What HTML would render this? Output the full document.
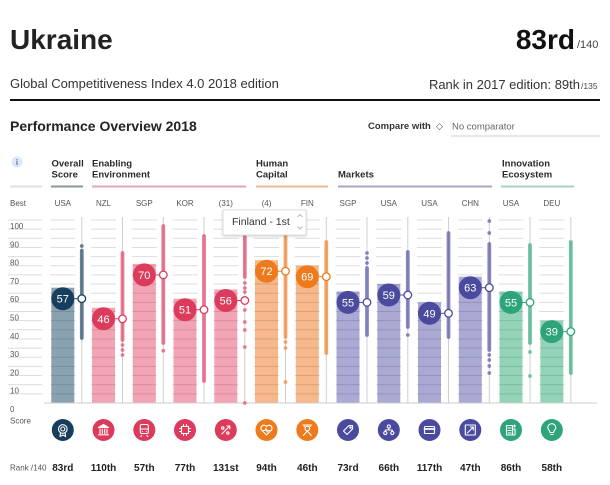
<!DOCTYPE html>
<html><head><meta charset="utf-8"><style>
html,body{margin:0;padding:0;background:#fff;}
svg{display:block;font-family:"Liberation Sans",Arial,sans-serif;}
</style></head><body>
<svg width="610" height="485" viewBox="0 0 610 485" xmlns="http://www.w3.org/2000/svg">
<defs>
<pattern id="gl" patternUnits="userSpaceOnUse" x="0" y="219.5" width="20" height="9.15"><rect width="20" height="1" fill="#dcdcdc"/></pattern>
<pattern id="gd" patternUnits="userSpaceOnUse" x="0" y="219.5" width="20" height="9.15"><rect width="20" height="1" fill="#000" fill-opacity="0.13"/></pattern>
<filter id="sh" x="-10%" y="-20%" width="120%" height="150%"><feDropShadow dx="0" dy="1" stdDeviation="1.2" flood-color="#000" flood-opacity="0.18"/></filter>
</defs>

<!-- Header -->
<text x="10" y="49" font-size="28" font-weight="bold" fill="#222">Ukraine</text>
<text x="575" y="49" font-size="28" font-weight="bold" fill="#111" text-anchor="end">83rd</text>
<text x="577" y="48" font-size="11" fill="#444">/140</text>
<text x="10" y="88" font-size="13" fill="#333">Global Competitiveness Index 4.0 2018 edition</text>
<text x="580" y="89" font-size="13" fill="#333" text-anchor="end">Rank in 2017 edition: 89th</text>
<text x="581" y="89" font-size="8.5" fill="#444">/135</text>
<line x1="10" y1="100" x2="600" y2="100" stroke="#111" stroke-width="2"/>

<text x="10" y="131" font-size="14" font-weight="bold" fill="#222">Performance Overview 2018</text>
<text x="368" y="129" font-size="9.5" font-weight="bold" fill="#333">Compare with</text>
<text x="436" y="129" font-size="9" fill="#555">◇</text>
<text x="452" y="129.5" font-size="9.5" fill="#666">No comparator</text>
<line x1="451" y1="136" x2="600" y2="136" stroke="#ddd" stroke-width="1.5"/>

<!-- info icon -->
<circle cx="17" cy="162" r="5.5" fill="#dce8f4"/>
<text x="17" y="165" font-size="8" font-weight="bold" fill="#4a78b0" text-anchor="middle">i</text>

<!-- Category labels -->
<g font-size="9.5" font-weight="bold" fill="#2a2a2a">
<text x="51.5" y="166.7">Overall</text><text x="51.5" y="177.7">Score</text>
<text x="92" y="166.7">Enabling</text><text x="92" y="177.7">Environment</text>
<text x="256" y="166.7">Human</text><text x="256" y="177.7">Capital</text>
<text x="338" y="177.7">Markets</text>
<text x="502" y="166.7">Innovation</text><text x="502" y="177.7">Ecosystem</text>
</g>
<g stroke-width="2">
<line x1="10" y1="186.5" x2="42" y2="186.5" stroke="#e0e0e0"/>
<line x1="51" y1="186.5" x2="83" y2="186.5" stroke="#8a989e"/>
<line x1="92" y1="186.5" x2="246" y2="186.5" stroke="#dca8b3"/>
<line x1="256" y1="186.5" x2="328" y2="186.5" stroke="#e9b990"/>
<line x1="338" y1="186.5" x2="492" y2="186.5" stroke="#a9a9bf"/>
<line x1="501" y1="186.5" x2="574" y2="186.5" stroke="#a6d3c3"/>
</g>

<!-- Column header labels -->
<g font-size="8" fill="#555" text-anchor="middle">
<text x="62.8" y="206">USA</text>
<text x="103.5" y="206">NZL</text>
<text x="144.3" y="206">SGP</text>
<text x="185" y="206">KOR</text>
<text x="225.8" y="206">(31)</text>
<text x="266.5" y="206">(4)</text>
<text x="307.3" y="206">FIN</text>
<text x="348" y="206">SGP</text>
<text x="388.8" y="206">USA</text>
<text x="429.5" y="206">USA</text>
<text x="470.3" y="206">CHN</text>
<text x="511" y="206">USA</text>
<text x="551.8" y="206">DEU</text>
</g>
<text x="10" y="206" font-size="8" fill="#555">Best</text>

<!-- y labels -->
<rect x="8" y="219.5" width="34" height="183" fill="url(#gl)"/>
<g font-size="8" fill="#555">
<text x="10" y="229">100</text>
<text x="10" y="247.3">90</text>
<text x="10" y="265.6">80</text>
<text x="10" y="283.9">70</text>
<text x="10" y="302.2">60</text>
<text x="10" y="320.5">50</text>
<text x="10" y="338.8">40</text>
<text x="10" y="357.1">30</text>
<text x="10" y="375.4">20</text>
<text x="10" y="393.7">10</text>
<text x="10" y="412">0</text>
<text x="10" y="423.5">Score</text>
<text x="10" y="470.5">Rank /140</text>
</g>

<!-- column gridlines -->
<g fill="url(#gl)">
<rect x="50.3" y="219.5" width="25" height="183"/>
<rect x="91" y="219.5" width="25" height="183"/>
<rect x="131.8" y="219.5" width="25" height="183"/>
<rect x="172.5" y="219.5" width="25" height="183"/>
<rect x="213.3" y="219.5" width="25" height="183"/>
<rect x="254" y="219.5" width="25" height="183"/>
<rect x="294.8" y="219.5" width="25" height="183"/>
<rect x="335.5" y="219.5" width="25" height="183"/>
<rect x="376.3" y="219.5" width="25" height="183"/>
<rect x="417" y="219.5" width="25" height="183"/>
<rect x="457.8" y="219.5" width="25" height="183"/>
<rect x="498.5" y="219.5" width="25" height="183"/>
<rect x="539.3" y="219.5" width="25" height="183"/>
</g>

<!-- vertical lines -->
<g stroke="#cfcfcf" stroke-width="1">
<line x1="81.8" y1="217" x2="81.8" y2="403"/>
<line x1="122.5" y1="217" x2="122.5" y2="403"/>
<line x1="163.3" y1="217" x2="163.3" y2="403"/>
<line x1="204" y1="217" x2="204" y2="403"/>
<line x1="244.8" y1="217" x2="244.8" y2="403"/>
<line x1="285.5" y1="217" x2="285.5" y2="403"/>
<line x1="326.3" y1="217" x2="326.3" y2="403"/>
<line x1="367" y1="217" x2="367" y2="403"/>
<line x1="407.8" y1="217" x2="407.8" y2="403"/>
<line x1="448.5" y1="217" x2="448.5" y2="403"/>
<line x1="489.3" y1="217" x2="489.3" y2="403"/>
<line x1="530" y1="217" x2="530" y2="403"/>
<line x1="570.8" y1="217" x2="570.8" y2="403"/>
</g>

<!-- bars -->
<g>
<rect x="51.3" y="287.7" width="23" height="115.3" fill="#8aa2b0"/>
<rect x="92" y="307.8" width="23" height="95.2" fill="#f2a4b4"/>
<rect x="132.8" y="263.9" width="23" height="139.1" fill="#f2a4b4"/>
<rect x="173.5" y="298.7" width="23" height="104.3" fill="#f2a4b4"/>
<rect x="214.3" y="289.5" width="23" height="113.5" fill="#f2a4b4"/>
<rect x="255" y="260.2" width="23" height="142.8" fill="#f7b98b"/>
<rect x="295.8" y="265.7" width="23" height="137.3" fill="#f7b98b"/>
<rect x="336.5" y="291.4" width="23" height="111.6" fill="#a9a9d4"/>
<rect x="377.3" y="284" width="23" height="119" fill="#a9a9d4"/>
<rect x="418" y="302.3" width="23" height="100.7" fill="#a9a9d4"/>
<rect x="458.8" y="276.7" width="23" height="126.3" fill="#a9a9d4"/>
<rect x="499.5" y="291.4" width="23" height="111.6" fill="#93d4b8"/>
<rect x="540.3" y="320.6" width="23" height="82.4" fill="#93d4b8"/>
</g>
<g fill="url(#gd)">
<rect x="51.3" y="287.7" width="23" height="115.3"/>
<rect x="92" y="307.8" width="23" height="95.2"/>
<rect x="132.8" y="263.9" width="23" height="139.1"/>
<rect x="173.5" y="298.7" width="23" height="104.3"/>
<rect x="214.3" y="289.5" width="23" height="113.5"/>
<rect x="255" y="260.2" width="23" height="142.8"/>
<rect x="295.8" y="265.7" width="23" height="137.3"/>
<rect x="336.5" y="291.4" width="23" height="111.6"/>
<rect x="377.3" y="284" width="23" height="119"/>
<rect x="418" y="302.3" width="23" height="100.7"/>
<rect x="458.8" y="276.7" width="23" height="126.3"/>
<rect x="499.5" y="291.4" width="23" height="111.6"/>
<rect x="540.3" y="320.6" width="23" height="82.4"/>
</g>

<line x1="44" y1="403" x2="597" y2="403" stroke="#cccccc" stroke-width="1"/>

<!-- distributions -->
<g stroke-linecap="round" stroke-width="3.8" stroke-opacity="0.68">
<line x1="81.8" y1="250.7" x2="81.8" y2="338" stroke="#1d4563"/>
<line x1="122.5" y1="253" x2="122.5" y2="340" stroke="#de3d62"/>
<line x1="163.3" y1="226" x2="163.3" y2="343" stroke="#de3d62"/>
<line x1="204" y1="236" x2="204" y2="381" stroke="#de3d62"/>
<line x1="244.8" y1="237" x2="244.8" y2="277" stroke="#de3d62"/>
<line x1="285.5" y1="233" x2="285.5" y2="337" stroke="#ef7e22"/>
<line x1="326.3" y1="242" x2="326.3" y2="353" stroke="#ef7e22"/>
<line x1="367" y1="268" x2="367" y2="335" stroke="#4f4ea3"/>
<line x1="407.8" y1="252" x2="407.8" y2="327" stroke="#4f4ea3"/>
<line x1="448.5" y1="233" x2="448.5" y2="337" stroke="#4f4ea3"/>
<line x1="489.3" y1="244" x2="489.3" y2="350" stroke="#4f4ea3"/>
<line x1="530" y1="245" x2="530" y2="343" stroke="#30a67c"/>
<line x1="570.8" y1="242" x2="570.8" y2="373" stroke="#30a67c"/>
</g>
<g fill-opacity="0.65" >
<g fill="#1d4563"><circle cx="81.8" cy="246" r="1.9"/></g>
<g fill="#de3d62">
<circle cx="122.5" cy="345" r="1.9"/><circle cx="122.5" cy="350" r="1.9"/><circle cx="122.5" cy="355" r="1.9"/>
<circle cx="163.3" cy="350.7" r="1.9"/>
<circle cx="244.8" cy="283" r="1.9"/><circle cx="244.8" cy="288" r="1.9"/><circle cx="244.8" cy="292" r="1.9"/><circle cx="244.8" cy="300" r="1.9"/><circle cx="244.8" cy="310" r="1.9"/><circle cx="244.8" cy="322" r="1.9"/><circle cx="244.8" cy="330" r="1.9"/><circle cx="244.8" cy="347" r="1.9"/><circle cx="244.8" cy="403" r="1.9"/>
</g>
<g fill="#ef7e22">
<circle cx="285.5" cy="342" r="1.9"/><circle cx="285.5" cy="348" r="1.9"/><circle cx="285.5" cy="382" r="1.9"/>
</g>
<g fill="#4f4ea3">
<circle cx="367" cy="253" r="1.9"/><circle cx="367" cy="258" r="1.9"/><circle cx="367" cy="263" r="1.9"/>
<circle cx="407.8" cy="335" r="1.9"/>
<circle cx="489.3" cy="221" r="1.9"/><circle cx="489.3" cy="233" r="1.9"/><circle cx="489.3" cy="355" r="1.9"/><circle cx="489.3" cy="360" r="1.9"/><circle cx="489.3" cy="366" r="1.9"/><circle cx="489.3" cy="373" r="1.9"/>
</g>
<g fill="#30a67c">
<circle cx="530" cy="352" r="1.9"/><circle cx="530" cy="376" r="1.9"/>
</g>
</g>

<!-- markers -->
<g stroke-width="1">
<line x1="74.3" y1="298.7" x2="78" y2="298.7" stroke="#173e5c"/>
<line x1="115" y1="318.8" x2="118.7" y2="318.8" stroke="#dc3b5c"/>
<line x1="155.8" y1="274.9" x2="159.5" y2="274.9" stroke="#dc3b5c"/>
<line x1="196.5" y1="309.7" x2="200.2" y2="309.7" stroke="#dc3b5c"/>
<line x1="237.3" y1="300.5" x2="241" y2="300.5" stroke="#dc3b5c"/>
<line x1="278" y1="271.2" x2="281.7" y2="271.2" stroke="#ee7a1e"/>
<line x1="318.8" y1="276.7" x2="322.5" y2="276.7" stroke="#ee7a1e"/>
<line x1="359.5" y1="302.4" x2="363.2" y2="302.4" stroke="#4a4a9f"/>
<line x1="400.3" y1="295" x2="404" y2="295" stroke="#4a4a9f"/>
<line x1="441" y1="313.3" x2="444.7" y2="313.3" stroke="#4a4a9f"/>
<line x1="481.8" y1="287.7" x2="485.5" y2="287.7" stroke="#4a4a9f"/>
<line x1="522.5" y1="302.4" x2="526.2" y2="302.4" stroke="#2da47a"/>
<line x1="563.3" y1="331.6" x2="567" y2="331.6" stroke="#2da47a"/>
</g>
<g fill="#fff" stroke-width="1.3">
<circle cx="81.8" cy="298.7" r="3.8" stroke="#173e5c"/>
<circle cx="122.5" cy="318.8" r="3.8" stroke="#dc3b5c"/>
<circle cx="163.3" cy="274.9" r="3.8" stroke="#dc3b5c"/>
<circle cx="204" cy="309.7" r="3.8" stroke="#dc3b5c"/>
<circle cx="244.8" cy="300.5" r="3.8" stroke="#dc3b5c"/>
<circle cx="285.5" cy="271.2" r="3.8" stroke="#ee7a1e"/>
<circle cx="326.3" cy="276.7" r="3.8" stroke="#ee7a1e"/>
<circle cx="367" cy="302.4" r="3.8" stroke="#4a4a9f"/>
<circle cx="407.8" cy="295" r="3.8" stroke="#4a4a9f"/>
<circle cx="448.5" cy="313.3" r="3.8" stroke="#4a4a9f"/>
<circle cx="489.3" cy="287.7" r="3.8" stroke="#4a4a9f"/>
<circle cx="530" cy="302.4" r="3.8" stroke="#2da47a"/>
<circle cx="570.8" cy="331.6" r="3.8" stroke="#2da47a"/>
</g>
<g>
<circle cx="62.8" cy="298.7" r="11.5" fill="#173e5c"/>
<circle cx="103.5" cy="318.8" r="11.5" fill="#dc3b5c"/>
<circle cx="144.3" cy="274.9" r="11.5" fill="#dc3b5c"/>
<circle cx="185" cy="309.7" r="11.5" fill="#dc3b5c"/>
<circle cx="225.8" cy="300.5" r="11.5" fill="#dc3b5c"/>
<circle cx="266.5" cy="271.2" r="11.5" fill="#ee7a1e"/>
<circle cx="307.3" cy="276.7" r="11.5" fill="#ee7a1e"/>
<circle cx="348" cy="302.4" r="11.5" fill="#4a4a9f"/>
<circle cx="388.8" cy="295" r="11.5" fill="#4a4a9f"/>
<circle cx="429.5" cy="313.3" r="11.5" fill="#4a4a9f"/>
<circle cx="470.3" cy="287.7" r="11.5" fill="#4a4a9f"/>
<circle cx="511" cy="302.4" r="11.5" fill="#2da47a"/>
<circle cx="551.8" cy="331.6" r="11.5" fill="#2da47a"/>
</g>
<g font-size="11" fill="#fff" text-anchor="middle">
<text x="62.8" y="302.7">57</text>
<text x="103.5" y="322.8">46</text>
<text x="144.3" y="278.9">70</text>
<text x="185" y="313.7">51</text>
<text x="225.8" y="304.5">56</text>
<text x="266.5" y="275.2">72</text>
<text x="307.3" y="280.7">69</text>
<text x="348" y="306.4">55</text>
<text x="388.8" y="299">59</text>
<text x="429.5" y="317.3">49</text>
<text x="470.3" y="291.7">63</text>
<text x="511" y="306.4">55</text>
<text x="551.8" y="335.6">39</text>
</g>

<!-- icons -->
<g>
<circle cx="62.8" cy="430" r="11" fill="#173e5c"/>
<circle cx="103.5" cy="430" r="11" fill="#dc3b5c"/>
<circle cx="144.3" cy="430" r="11" fill="#dc3b5c"/>
<circle cx="185" cy="430" r="11" fill="#dc3b5c"/>
<circle cx="225.8" cy="430" r="11" fill="#dc3b5c"/>
<circle cx="266.5" cy="430" r="11" fill="#ee7a1e"/>
<circle cx="307.3" cy="430" r="11" fill="#ee7a1e"/>
<circle cx="348" cy="430" r="11" fill="#4a4a9f"/>
<circle cx="388.8" cy="430" r="11" fill="#4a4a9f"/>
<circle cx="429.5" cy="430" r="11" fill="#4a4a9f"/>
<circle cx="470.3" cy="430" r="11" fill="#4a4a9f"/>
<circle cx="511" cy="430" r="11" fill="#2da47a"/>
<circle cx="551.8" cy="430" r="11" fill="#2da47a"/>
</g>
<g stroke="#fff" stroke-width="1.1" fill="none" stroke-linecap="round" stroke-linejoin="round">
<g transform="translate(62.8,429)"><circle r="4.3"/><circle r="2"/><path d="M-2.3,3.8 L-2.8,7.5 L0,6 L2.8,7.5 L2.3,3.8"/></g>
<g transform="translate(103.5,430)"><path d="M-5,-2.5 L0,-5.5 L5,-2.5 Z" fill="#fff"/><path d="M-3.5,-1 V3.5 M-1.2,-1 V3.5 M1.2,-1 V3.5 M3.5,-1 V3.5 M-5,4.8 H5"/></g>
<g transform="translate(144.3,430)"><rect x="-4" y="-5.5" width="8" height="9" rx="1.5"/><path d="M-4,-1 H4 M-2.5,5.5 L-3.5,6.5 M2.5,5.5 L3.5,6.5 M-2,1.5 h0.1 M2,1.5 h0.1"/></g>
<g transform="translate(185,430)"><rect x="-3.5" y="-3.5" width="7" height="7"/><path d="M-1.5,-3.5 V-5.5 M1.5,-3.5 V-5.5 M-1.5,3.5 V5.5 M1.5,3.5 V5.5 M-3.5,-1.5 H-5.5 M-3.5,1.5 H-5.5 M3.5,-1.5 H5.5 M3.5,1.5 H5.5"/></g>
<g transform="translate(225.8,430)"><path d="M-4,4 L4,-4 M1,-4 H4 V-1"/><circle cx="-3" cy="-2" r="1.2"/><circle cx="2" cy="3" r="1.2"/></g>
<g transform="translate(266.5,430)"><path d="M0,5 L-5,0 A2.8,2.8 0 0 1 0,-3.5 A2.8,2.8 0 0 1 5,0 Z"/><path d="M-3.5,0.5 H-1.5 L-0.5,-1.5 L0.8,2.2 L1.8,0.5 H3.5"/></g>
<g transform="translate(307.3,430)"><path d="M-4.5,-5 H4.5 M-3,-5 V-3.5 M3,-5 V-3.5"/><circle cy="-1.5" r="2.3"/><path d="M-4,5.5 L0,1 L4,5.5"/></g>
<g transform="translate(348,430)"><path d="M-4.5,1 L1,-4.5 H4.5 V-1 L-1,4.5 Z"/><circle cx="2.5" cy="-2.5" r="0.7"/></g>
<g transform="translate(388.8,430)"><circle cy="-3.5" r="1.6"/><circle cx="-3.5" cy="3" r="1.6"/><circle cx="3.5" cy="3" r="1.6"/><path d="M0,-2 V0 M-3.5,1.4 V0 H3.5 V1.4"/></g>
<g transform="translate(429.5,430)"><rect x="-5" y="-3.5" width="10" height="7" rx="0.8"/><path d="M-5,-1 H5" stroke-width="1.8"/></g>
<g transform="translate(470.3,430)"><rect x="-5" y="-5" width="10" height="10"/><path d="M-3,3 L3,-3 M0,-3 H3 V0"/></g>
<g transform="translate(511,430)"><rect x="-4.5" y="-4.5" width="6" height="9.5"/><path d="M-3,-2 H0 M-3,0.5 H0 M-3,3 H0 M1.5,-1 H4 V5 H1.5 M3.5,-5 V-3 M2.5,-4 H4.5"/></g>
<g transform="translate(551.8,430)"><path d="M-1.8,2.5 C-1.8,0.5 -4,-0.5 -4,-2.3 A4,4 0 0 1 4,-2.3 C4,-0.5 1.8,0.5 1.8,2.5 Z M-1.5,4.5 H1.5"/></g>
</g>

<!-- ranks -->
<g font-size="10" font-weight="bold" fill="#222" text-anchor="middle">
<text x="62.8" y="471">83rd</text>
<text x="103.5" y="471">110th</text>
<text x="144.3" y="471">57th</text>
<text x="185" y="471">77th</text>
<text x="225.8" y="471">131st</text>
<text x="266.5" y="471">94th</text>
<text x="307.3" y="471">46th</text>
<text x="348" y="471">73rd</text>
<text x="388.8" y="471">66th</text>
<text x="429.5" y="471">117th</text>
<text x="470.3" y="471">47th</text>
<text x="511" y="471">86th</text>
<text x="551.8" y="471">58th</text>
</g>

<!-- tooltip -->
<g filter="url(#sh)"><rect x="223" y="210" width="83" height="25" fill="#fff" stroke="#dddddd" stroke-width="1"/></g>
<text x="232" y="225" font-size="10.5" fill="#333">Finland - 1st</text>
<path d="M297.5,217 L300,214.5 L302.5,217 M297.5,226.5 L300,229 L302.5,226.5" stroke="#bbb" stroke-width="1" fill="none"/>
</svg>
</body></html>
